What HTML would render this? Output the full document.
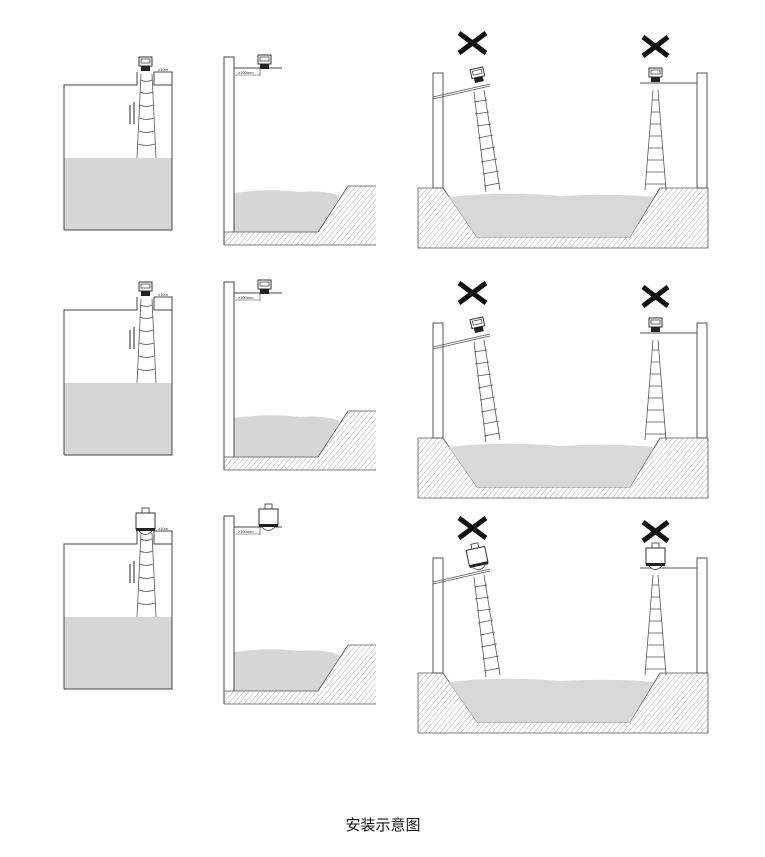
<!DOCTYPE html>
<html><head><meta charset="utf-8"><style>
html,body{margin:0;padding:0;background:#fff;}
svg{display:block;}
</style></head><body>
<svg width="765" height="857" viewBox="0 0 765 857" xmlns="http://www.w3.org/2000/svg">
<defs>
<pattern id="h" width="4" height="4" patternUnits="userSpaceOnUse" patternTransform="rotate(40)">
<line x1="0" y1="0" x2="0" y2="4" stroke="#999" stroke-width="0.8"/>
</pattern>
<g id="tank">
<rect x="64" y="158" width="108" height="72" fill="#d6d6d6"/>
<path d="M64,230 V85 H137 V72 M154,72 H172 V230 H64 M154,72 V85 H172" fill="none" stroke="#444" stroke-width="1"/>
<path d="M141,74 L137,158 M152,74 L156,158" fill="none" stroke="#555" stroke-width="0.8"/>
<path d="M141,80 Q146,83 152,80 M140,92 Q146,95 153,92 M140,105 Q146,108 153,105 M139,118 Q146,121 154,118 M139,131 Q146,134 154,131 M138,144 Q146,147 155,144" fill="none" stroke="#555" stroke-width="0.8"/>
<path d="M130,105 V124 M134,102 V124" stroke="#222" stroke-width="1"/>
<path d="M156,72 H173" stroke="#555" stroke-width="0.6"/>
<text x="158" y="71" font-family="Liberation Sans, sans-serif" font-size="4" fill="#333">≥10m</text>
</g>
<g id="mid">
<path d="M234,193 Q270,188 300,192 Q325,190 340,196 L318,232 H234 Z" fill="#d6d6d6"/>
<path d="M224,232 H318 L348,186 H376 V245 H224 Z" fill="url(#h)"/>
<path d="M224,232 H318 L348,186 H376 M224,245 H376" fill="none" stroke="#555" stroke-width="0.8"/>
<path d="M224,245 V57 H234 V232" fill="none" stroke="#444" stroke-width="1"/>
<path d="M234,68 H282" stroke="#444" stroke-width="1"/>
<path d="M235,75 H260 M260,68 V76" stroke="#444" stroke-width="0.6"/>
<text x="238" y="74" font-family="Liberation Sans, sans-serif" font-size="4" fill="#333">≥100mm</text>
</g>
<g id="right">
<path d="M418,188 H443 L477,237 H630 L660,188 H708 V248 H418 Z" fill="url(#h)" stroke="#555" stroke-width="0.8"/>
<path d="M449,197 Q500,191 560,196 Q610,193 654,197 L630,237 H477 Z" fill="#d8d8d8"/>
<rect x="433" y="73" width="10" height="115" fill="#fff" stroke="#555" stroke-width="1"/>
<rect x="697" y="73" width="10" height="115" fill="#fff" stroke="#555" stroke-width="1"/>
<path d="M433,97 L490,84 M433,99 L490,86" stroke="#555" stroke-width="0.8"/>
<path d="M640,83 H697" stroke="#555" stroke-width="1"/>
<path d="M474,92 L486,192 M484,90 L500,190" stroke="#555" stroke-width="0.8"/>
<path d="M474,102 L487,100 M475,114 L489,112 M477,126 L491,124 M478,138 L493,135 M480,150 L495,147 M481,162 L497,159 M483,174 L499,171 M484,186 L500,183" stroke="#555" stroke-width="0.8"/>
<path d="M653,90 L645,190 M658,90 L666,190" stroke="#555" stroke-width="0.8"/>
<path d="M652,100 H659 M651,112 H660 M650,124 H661 M649,136 H662 M648,148 H663 M647,160 H664 M646,172 H665 M646,184 H666" stroke="#555" stroke-width="0.8"/>
<path d="M459,33 L486,53 M486,33 L459,53 M643,37 L668,56 M668,37 L643,56" stroke="#111" stroke-width="5"/>
</g>
<g id="s1">
<rect x="0" y="0" width="13" height="9" fill="#fff" stroke="#333" stroke-width="1"/>
<rect x="2" y="2" width="9" height="4" fill="none" stroke="#333" stroke-width="0.7"/>
<rect x="2" y="9" width="9" height="5" fill="#222"/>
</g>
<g id="s3">
<rect x="6" y="0" width="7" height="5" fill="#fff" stroke="#333" stroke-width="0.8"/>
<rect x="0" y="5" width="19" height="16" fill="#fff" stroke="#333" stroke-width="1"/>
<rect x="0" y="20" width="19" height="3" fill="#222"/>
<path d="M3,23 Q9,30 16,23" fill="#fff" stroke="#333" stroke-width="0.7"/>
</g>
</defs>

<use href="#tank"/>
<use href="#s1" x="139" y="57"/>
<use href="#mid"/>
<use href="#s1" x="258" y="55"/>
<use href="#right"/>
<g transform="rotate(-12 479 78)"><use href="#s1" x="472" y="68"/></g>
<use href="#s1" x="649" y="68"/>

<g transform="translate(0,225)">
<use href="#tank"/>
<use href="#s1" x="139" y="57"/>
<use href="#mid"/>
<use href="#s1" x="258" y="55"/>
</g>
<g transform="translate(0,250)">
<use href="#right"/>
<g transform="rotate(-12 479 78)"><use href="#s1" x="472" y="68"/></g>
<use href="#s1" x="649" y="68"/>
</g>

<g transform="translate(0,459)">
<use href="#tank"/>
<use href="#s3" x="136" y="49"/>
<use href="#mid"/>
<use href="#s3" x="259" y="45"/>
</g>
<g transform="translate(0,485)">
<use href="#right"/>
<g transform="rotate(-12 479 78)"><use href="#s3" x="469" y="58"/></g>
<use href="#s3" x="646" y="58"/>
</g>

<text x="383" y="830" text-anchor="middle" font-family="Liberation Sans, 'Noto Sans CJK SC', sans-serif" font-size="15" fill="#111">安装示意图</text>
</svg>
</body></html>
